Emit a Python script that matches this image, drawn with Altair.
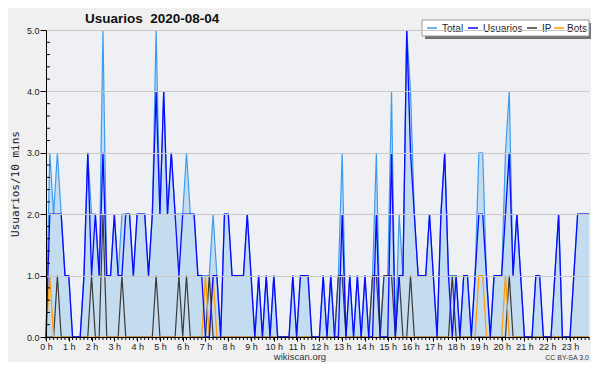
import altair as alt
import pandas as pd

# values per 10-minute slot, grouped by hour (6 slots per hour)
total = [
    0, 3, 2, 3, 2, 1,   1, 0, 0, 0, 1, 3,   2, 2, 1, 5, 1, 1,   2, 1, 2, 2, 2, 1,
    2, 2, 2, 1, 2, 5,   2, 4, 2, 3, 2, 2,   2, 3, 2, 2, 1, 1,   1, 1, 2, 1, 0, 2,
    2, 1, 1, 1, 1, 2,   1, 0, 1, 0, 1, 0,   1, 0, 0, 0, 0, 1,   0, 1, 1, 1, 0, 0,
    0, 1, 0, 1, 0, 1,   3, 0, 1, 0, 1, 0,   1, 0, 1, 3, 0, 1,   1, 4, 0, 2, 1, 5,
    4, 2, 1, 1, 1, 2,   1, 0, 2, 3, 1, 1,   1, 0, 1, 1, 0, 1,   3, 3, 1, 0, 1, 1,
    1, 3, 4, 1, 2, 1,   0, 0, 0, 1, 1, 0,   0, 0, 1, 2, 0, 0,   0, 1, 2, 2, 2, 2,
]
usuarios = [
    0, 2, 2, 2, 2, 1,   1, 0, 0, 0, 1, 3,   1, 2, 1, 3, 1, 1,   2, 1, 1, 2, 2, 1,
    2, 2, 2, 1, 2, 4,   2, 4, 2, 3, 2, 1,   2, 2, 2, 2, 1, 1,   0, 0, 1, 1, 0, 2,
    2, 1, 1, 1, 1, 2,   1, 0, 1, 0, 1, 0,   1, 0, 0, 0, 0, 1,   0, 1, 1, 1, 0, 0,
    0, 1, 0, 1, 0, 0,   2, 0, 1, 0, 1, 0,   1, 0, 0, 2, 0, 0,   0, 3, 0, 1, 1, 5,
    3, 2, 1, 1, 1, 2,   1, 0, 2, 3, 1, 0,   1, 0, 1, 1, 0, 1,   2, 2, 1, 0, 1, 1,
    1, 2, 3, 1, 2, 1,   0, 0, 0, 1, 1, 0,   0, 0, 1, 2, 0, 0,   0, 1, 2, 2, 2, 2,
]
ip = [
    0, 0, 0, 1, 0, 0,   0, 0, 0, 0, 0, 0,   1, 0, 0, 2, 0, 0,   0, 0, 1, 0, 0, 0,
    0, 0, 0, 0, 0, 1,   0, 0, 0, 0, 0, 1,   0, 1, 0, 0, 0, 0,   0, 1, 0, 0, 0, 0,
    0, 0, 0, 0, 0, 0,   0, 0, 0, 0, 0, 0,   0, 0, 0, 0, 0, 0,   0, 0, 0, 0, 0, 0,
    0, 0, 0, 0, 0, 1,   1, 0, 0, 0, 0, 0,   0, 0, 1, 1, 0, 1,   1, 1, 0, 1, 0, 0,
    1, 0, 0, 0, 0, 0,   0, 0, 0, 0, 0, 1,   0, 0, 0, 0, 0, 0,   0, 0, 0, 0, 0, 0,
    0, 0, 1, 0, 0, 0,   0, 0, 0, 0, 0, 0,   0, 0, 0, 0, 0, 0,   0, 0, 0, 0, 0, 0,
]
bots = [
    0, 1, 0, 0, 0, 0,   0, 0, 0, 0, 0, 0,   0, 0, 0, 0, 0, 0,   0, 0, 0, 0, 0, 0,
    0, 0, 0, 0, 0, 0,   0, 0, 0, 0, 0, 0,   0, 0, 0, 0, 0, 0,   1, 0, 1, 0, 0, 0,
    0, 0, 0, 0, 0, 0,   0, 0, 0, 0, 0, 0,   0, 0, 0, 0, 0, 0,   0, 0, 0, 0, 0, 0,
    0, 0, 0, 0, 0, 0,   0, 0, 0, 0, 0, 0,   0, 0, 0, 0, 0, 0,   0, 0, 0, 0, 0, 0,
    0, 0, 0, 0, 0, 0,   0, 0, 0, 0, 0, 0,   0, 0, 0, 0, 0, 0,   1, 1, 0, 0, 0, 0,
    0, 1, 0, 0, 0, 0,   0, 0, 0, 0, 0, 0,   0, 0, 0, 0, 0, 0,   0, 0, 0, 0, 0, 0,
]

series_names = ["Total", "Usuarios", "IP", "Bots"]
series_colors = ["#3d9cf0", "#0a0aff", "#3a3a3a", "#ff9a00"]
hour_ticks = list(range(0, 144, 6))
y_major = [0, 1, 2, 3, 4, 5]
y_minor = [v / 5 for v in range(26) if v % 5 != 0]
x_minor = list(range(0, 144))

rows = []
for name, vals in zip(series_names, [total, usuarios, ip, bots]):
    for i, v in enumerate(vals):
        rows.append({"t": i, "serie": name, "v": v})
df = pd.DataFrame(rows)

W, H = 543, 307
FONT = "Liberation Sans"
xscale = alt.Scale(domain=[0, 143], nice=False, zero=False)
yscale = alt.Scale(domain=[0, 5], nice=False)
cscale = alt.Scale(domain=series_names, range=series_colors)

x_axis = alt.Axis(values=hour_ticks, labelExpr="datum.value/6 + ' h'", tickSize=4,
                  tickColor="black", domainColor="black", labelFont=FONT,
                  labelFontSize=9, labelColor="#222", labelPadding=1, grid=False,
                  title=None, labelFlush=False, zindex=1)
y_axis = alt.Axis(values=y_major, format=".1f", tickSize=6, tickColor="black",
                  domainColor="black", labelFont=FONT, labelFontSize=9,
                  labelColor="#222", labelPadding=1, grid=True, gridColor="#c8c8c8",
                  title="Usuarios/10 mins", titleFont="DejaVu Sans Mono",
                  titleFontSize=11, titleFontWeight="normal", titleColor="#222",
                  titlePadding=6, zindex=1)

base = alt.Chart(df)

area = base.transform_filter(alt.datum.serie == "Total").mark_area(
    color="#c4dcf0", opacity=1
).encode(
    x=alt.X("t:Q", scale=xscale, axis=x_axis),
    y=alt.Y("v:Q", scale=yscale, axis=y_axis),
)


def line(name, width):
    return base.transform_filter(alt.datum.serie == name).mark_line(
        strokeWidth=width, interpolate="linear"
    ).encode(
        x=alt.X("t:Q", scale=xscale, axis=x_axis),
        y=alt.Y("v:Q", scale=yscale, axis=y_axis),
        color=alt.Color("serie:N", scale=cscale, legend=None),
    )


l_total = line("Total", 1.2)
l_ip = line("IP", 1.2)
l_bots = line("Bots", 1.2)
l_users = line("Usuarios", 1.3)

xminor = alt.Chart(pd.DataFrame({"t": x_minor})).mark_rule(color="black").encode(
    x=alt.X("t:Q", scale=xscale, axis=x_axis), y=alt.value(H), y2=alt.value(H + 3)
)
yminor = alt.Chart(pd.DataFrame({"v": y_minor})).mark_rule(color="black").encode(
    y=alt.Y("v:Q", scale=yscale, axis=y_axis), x=alt.value(0), x2=alt.value(4)
)

# legend box (drawn by hand, top right, with a drop shadow)
leg = pd.DataFrame({
    "serie": series_names,
    "sx": [381, 422, 481, 508],
    "lx": [396, 437, 496, 521],
})
leg["sx2"] = leg["sx"] + 10

txt = pd.DataFrame({"a": [0]})
shadow = alt.Chart(txt).mark_rect(color="#707070").encode(
    x=alt.value(379), x2=alt.value(546), y=alt.value(-7), y2=alt.value(9)
)
box = alt.Chart(txt).mark_rect(fill="white", stroke="#9a9a9a", strokeWidth=1).encode(
    x=alt.value(376), x2=alt.value(543), y=alt.value(-10), y2=alt.value(6)
)
leg_sym = alt.Chart(leg).mark_rule(strokeWidth=1.5).encode(
    x=alt.X("sx:Q", scale=None), x2="sx2:Q", y=alt.value(-2),
    color=alt.Color("serie:N", scale=cscale, legend=None),
)
leg_txt = alt.Chart(leg).mark_text(
    font=FONT, fontSize=10, align="left", baseline="alphabetic", color="#222"
).encode(x=alt.X("lx:Q", scale=None), y=alt.value(1.5), text="serie:N")

title = alt.Chart(txt).mark_text(
    text="Usuarios\u00a0 2020-08-04", font=FONT, fontSize=13.5,
    fontWeight="bold", align="left", baseline="alphabetic", color="#111",
).encode(x=alt.value(39), y=alt.value(-7))
footer = alt.Chart(txt).mark_text(
    text="wikiscan.org", font=FONT, fontSize=9.5, align="center",
    baseline="alphabetic", color="#333",
).encode(x=alt.value(254), y=alt.value(329.5))
lic = alt.Chart(txt).mark_text(
    text="CC BY-SA 3.0", font=FONT, fontSize=7, align="right",
    baseline="alphabetic", color="#333",
).encode(x=alt.value(543), y=alt.value(329.5))

chart = alt.layer(
    area, l_total, l_ip, l_bots, l_users, xminor, yminor,
    shadow, box, leg_sym, leg_txt, title, footer, lic
).properties(
    width=W, height=H,
    autosize=alt.AutoSizeParams(type="none"),
    padding={"left": 38, "top": 22, "right": 2, "bottom": 25},
    background="#f0f0f0",
).configure_view(fill="#eef0f3", stroke=None)

chart.save("out.html", embed_options={"renderer": "svg", "actions": False})
